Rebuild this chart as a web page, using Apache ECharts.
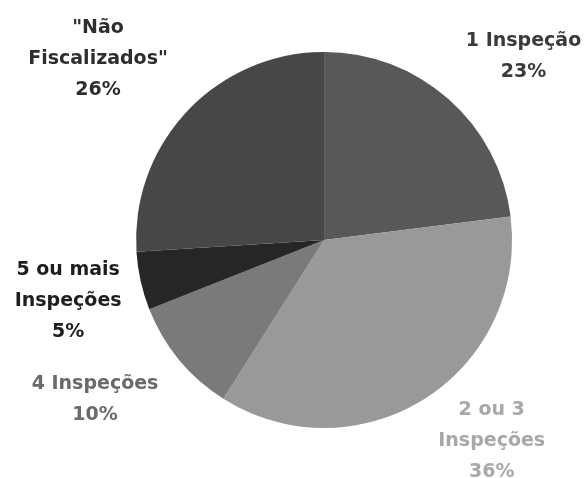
<!DOCTYPE html>
<html>
<head>
<meta charset="utf-8">
<script src="https://cdn.jsdelivr.net/npm/echarts@6/dist/echarts.min.js"></script>
<style>html,body{margin:0;padding:0;background:#fff}#c{width:585px;height:478px}</style>
</head>
<body>
<div id="c"></div>
<script>
const categories = ['1 Inspeção', '2 ou 3\nInspeções', '4 Inspeções', '5 ou mais\nInspeções', '"Não\nFiscalizados"'];
const values = [23, 36, 10, 5, 26];
const sliceColors = ['#585858', '#999999', '#7a7a7a', '#262626', '#474747'];
const labelColors = ['#3a3a3a', '#a8a8a8', '#6a6a6a', '#1e1e1e', '#2e2e2e'];
const labelShiftX = [-14, -13, 15, 25, 15];
const labelShiftY = [-12, 9, 14, 11, -25];

const chart = echarts.init(document.getElementById('c'), null, {renderer: 'canvas'});
chart.setOption({
  animation: false,
  backgroundColor: '#ffffff',
  series: [{
    type: 'pie',
    center: ['55.4%', '50.2%'],
    radius: 188,
    startAngle: 90,
    clockwise: true,
    avoidLabelOverlap: false,
    data: categories.map((n, i) => ({
      name: n,
      value: values[i],
      itemStyle: {color: sliceColors[i]},
      label: {color: labelColors[i]}
    })),
    itemStyle: {borderWidth: 0},
    label: {
      show: true,
      position: 'outside',
      formatter: p => p.name + '\n' + p.value + '%',
      fontFamily: 'DejaVu Sans',
      fontWeight: 'bold',
      fontSize: 19,
      lineHeight: 31
    },
    labelLine: {show: false, length: 40, length2: 0},
    labelLayout: function (p) {
      const r = p.labelRect;
      const i = p.dataIndex;
      return {
        x: r.x + r.width / 2 + labelShiftX[i],
        y: r.y + r.height / 2 + labelShiftY[i],
        align: 'center',
        verticalAlign: 'middle'
      };
    },
    emphasis: {disabled: true}
  }]
});
</script>
</body>
</html>
